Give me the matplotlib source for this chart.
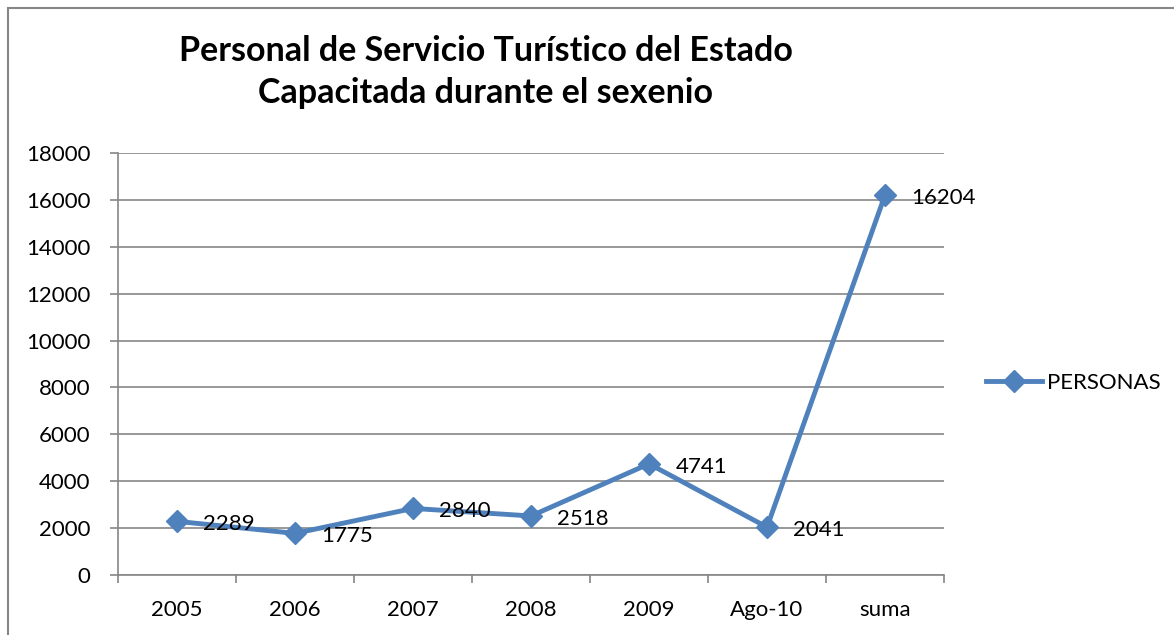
import matplotlib.pyplot as plt
from matplotlib.lines import Line2D
from matplotlib.patches import Rectangle

plt.rcParams['font.family'] = ['Lato', 'DejaVu Sans']

# data
categories = ['2005', '2006', '2007', '2008', '2009', 'Ago-10', 'suma']
personas = [2289, 1775, 2840, 2518, 4741, 2041, 16204]

blue = '#4F81BD'
grey = '#868686'

fig = plt.figure(figsize=(11.74, 6.35), dpi=100)
ax = fig.add_axes([118 / 1174, 1 - 575 / 635, (944 - 118) / 1174, (575 - 153) / 635])

x = list(range(len(categories)))
ax.plot(x, personas, color=blue, lw=3.5, marker='D', markersize=11,
        markeredgecolor=blue, label='PERSONAS', zorder=3)

# data labels
for xi, v in zip(x, personas):
    ax.annotate(str(v), (xi, v), xytext=(19, -2), textcoords='offset points',
                ha='left', va='center', fontsize=16, color='black', zorder=4)

ax.set_xlim(-0.5, len(categories) - 0.5)
ax.set_ylim(0, 18000)
ax.set_yticks(range(0, 18001, 2000))
ax.set_xticks([i - 0.5 for i in range(len(categories) + 1)])
ax.set_xticklabels([])
ax.set_xticks(x, minor=True)
ax.set_xticklabels(categories, minor=True)
ax.tick_params(axis='x', which='minor', length=0, pad=18, labelsize=16)
ax.tick_params(axis='x', which='major', length=6, color=grey, width=1.2)
ax.tick_params(axis='y', length=6, color=grey, width=1.2, pad=14, labelsize=16)
ax.grid(axis='y', color=grey, lw=1.2)
ax.set_axisbelow(True)
for s in ['top', 'right']:
    ax.spines[s].set_visible(False)
for s in ['left', 'bottom']:
    ax.spines[s].set_color(grey)
    ax.spines[s].set_linewidth(1.2)

fig.text(486 / 1174, 1 - 72 / 635,
         'Personal de Servicio Turístico del Estado\nCapacitada durante el sexenio',
         ha='center', va='center', fontsize=24.5, fontweight='bold', linespacing=1.35)

handle = Line2D([], [], color=blue, lw=3.5, marker='D', markersize=11)
fig.legend([handle], ['PERSONAS'], loc='center left',
           bbox_to_anchor=(966 / 1174, 1 - 383 / 635), frameon=False,
           fontsize=16, handlelength=2.5, handletextpad=0.25)

# chart border
fig.patches.append(Rectangle((8 / 1174, -0.1), 1.2, 1 - 8 / 635 + 0.1,
                             transform=fig.transFigure, fill=False,
                             edgecolor=grey, lw=1.5))

fig.savefig('out.png', dpi=100)
